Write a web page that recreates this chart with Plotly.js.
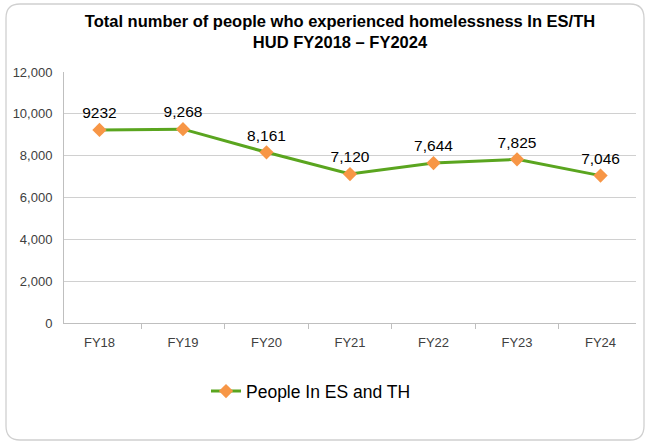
<!DOCTYPE html>
<html>
<head>
<meta charset="utf-8">
<script src="https://cdn.plot.ly/plotly-3.0.1.min.js"></script>
<style>html,body{margin:0;padding:0;background:#fff;}#chart{width:645px;height:443px;}</style>
</head>
<body>
<div id="chart"></div>
<script>
var categories = ["FY18","FY19","FY20","FY21","FY22","FY23","FY24"];
var peopleInESandTH = [9232, 9268, 8161, 7120, 7644, 7825, 7046];
var pointLabels = ["9232","9,268","8,161","7,120","7,644","7,825","7,046"];
var yTickValues = [0,2000,4000,6000,8000,10000,12000];
var yTickLabels = ["0","2,000","4,000","6,000","8,000","10,000","12,000"];

var W = 645, H = 443, mL = 64, mR = 9, mT = 72, mB = 120;
var pw = W - mL - mR, ph = H - mT - mB;
function px(x){ return (x - mL) / pw; }
function py(y){ return (H - mB - y) / ph; }
function borderPath(x0, y0, x1, y1, r){
  return "M" + px(x0 + r) + "," + py(y0) +
    " L" + px(x1 - r) + "," + py(y0) +
    " Q" + px(x1) + "," + py(y0) + " " + px(x1) + "," + py(y0 + r) +
    " L" + px(x1) + "," + py(y1 - r) +
    " Q" + px(x1) + "," + py(y1) + " " + px(x1 - r) + "," + py(y1) +
    " L" + px(x0 + r) + "," + py(y1) +
    " Q" + px(x0) + "," + py(y1) + " " + px(x0) + "," + py(y1 - r) +
    " L" + px(x0) + "," + py(y0 + r) +
    " Q" + px(x0) + "," + py(y0) + " " + px(x0 + r) + "," + py(y0) + " Z";
}

var trace = {
  x: categories,
  y: peopleInESandTH,
  type: "scatter",
  mode: "lines+markers+text",
  name: "People In ES and TH",
  line: {color: "#5aa51f", width: 3},
  marker: {symbol: "diamond", size: 11, color: "#f79646", line: {width: 0}},
  text: pointLabels,
  textposition: "top center",
  textfont: {family: "Liberation Sans, Arial, sans-serif", size: 15.5, color: "#000"},
  cliponaxis: false
};

var layout = {
  width: W, height: H,
  margin: {l: mL, r: mR, t: mT, b: mB},
  paper_bgcolor: "#fff",
  plot_bgcolor: "#fff",
  title: {
    text: "<b>Total number of people who experienced homelessness In ES/TH<br>HUD FY2018 – FY2024</b>",
    font: {family: "Liberation Sans Narrow, Liberation Sans, Arial, sans-serif", size: 16.5, color: "#000"},
    x: px(340), xref: "paper", xanchor: "center", y: 0.94, yanchor: "top"
  },
  xaxis: {
    type: "category",
    showgrid: false,
    showline: true, linecolor: "#bfbfbf", linewidth: 1,
    ticks: "outside", ticklen: 5, tickcolor: "#bfbfbf", tickson: "boundaries",
    ticklabelstandoff: 7,
    tickfont: {family: "Liberation Sans, Arial, sans-serif", size: 13, color: "#404040"},
    fixedrange: true
  },
  yaxis: {
    range: [0, 12000],
    tickvals: yTickValues, ticktext: yTickLabels,
    showgrid: true, gridcolor: "#d0d0d0", gridwidth: 1,
    showline: true, linecolor: "#bfbfbf", linewidth: 1,
    zeroline: false,
    ticks: "", ticklen: 0,
    ticklabelstandoff: 8,
    tickfont: {family: "Liberation Sans, Arial, sans-serif", size: 13, color: "#404040"},
    fixedrange: true
  },
  showlegend: true,
  legend: {
    orientation: "h", x: px(206), xanchor: "left", y: -0.2, yanchor: "top",
    font: {family: "Liberation Sans, Arial, sans-serif", size: 17.5, color: "#000"}
  },
  shapes: [{
    type: "path", xref: "paper", yref: "paper",
    path: borderPath(6, 4, 644, 440, 14),
    line: {color: "#d0d0d0", width: 1.3},
    fillcolor: "rgba(0,0,0,0)",
    layer: "below"
  }]
};

Plotly.newPlot("chart", [trace], layout, {displayModeBar: false, staticPlot: true});
</script>
</body>
</html>
